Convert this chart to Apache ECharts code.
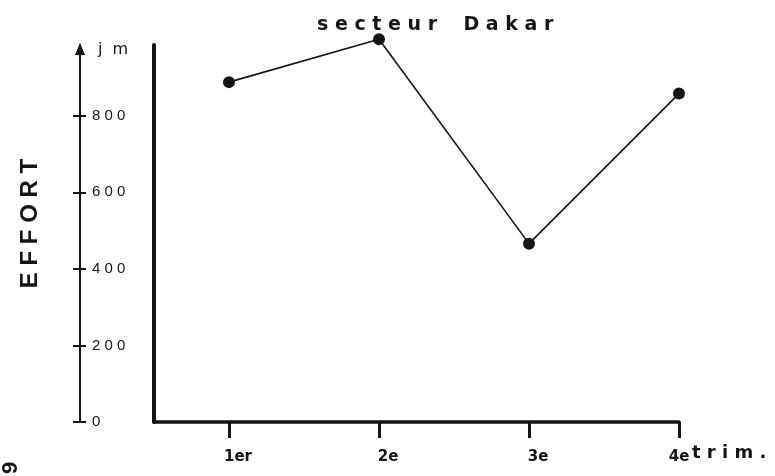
<!DOCTYPE html>
<html>
<head>
<meta charset="utf-8">
<script src="https://cdn.jsdelivr.net/npm/echarts@6/dist/echarts.min.js"></script>
<style>
  html, body { margin: 0; padding: 0; background: #ffffff; }
  #chart { width: 775px; height: 476px; }
</style>
</head>
<body>
<div id="chart"></div>
<script>
// Quarterly fishing effort (man-days), Dakar sector
const chartTitle = 'secteur Dakar';
const quarters = ['1er', '2e', '3e', '4e'];
const effort = [888, 1000, 466, 858];
const yTickValues = [0, 200, 400, 600, 800];
const yUnit = 'jm';
const yName = 'EFFORT';
const xName = 'trim.';
const pageMark = '9';

const INK = '#151515';

// letter-spaced text: spaces between letters, wider gaps between words
function spaced(s, letterGap, wordGap) {
  const lg = letterGap || ' ';
  return s.split(' ').map(w => w.split('').join(lg)).join(wordGap || '    ');
}

const chart = echarts.init(document.getElementById('chart'), null, { renderer: 'canvas' });

const yMin = 0, yMax = 985;
const quarterIdx = quarters.map((q, i) => i);
const lastIdx = quarters.length - 1;

const option = {
  animation: false,
  backgroundColor: '#ffffff',
  title: {
    text: spaced(chartTitle),
    left: 312,
    top: 11,
    textStyle: {
      fontFamily: 'DejaVu Sans',
      fontWeight: 'bold',
      fontSize: 19,
      color: INK
    }
  },
  grid: {
    left: 154,
    right: 96,
    top: 45,
    bottom: 54,
    containLabel: false,
    outerBoundsMode: 'none'
  },
  xAxis: {
    type: 'value',
    min: -0.5,
    max: lastIdx,
    name: spaced(xName),
    nameLocation: 'end',
    nameGap: 13,
    nameMoveOverlap: false,
    nameTextStyle: {
      fontFamily: 'DejaVu Sans',
      fontWeight: 'bold',
      fontSize: 18,
      color: INK,
      align: 'left',
      verticalAlign: 'top',
      padding: [22, 0, 0, 0]
    },
    axisLine: { show: true, onZero: false, lineStyle: { color: INK, width: 3.5 } },
    axisTick: {
      show: true,
      customValues: quarterIdx,
      length: 16,
      lineStyle: { color: INK, width: 3 }
    },
    axisLabel: {
      show: true,
      customValues: quarterIdx,
      formatter: v => {
        const i = Math.round(v);
        const name = quarters[i] || '';
        // the last quarter label sits right on its tick, next to the axis name
        return i === lastIdx ? '{last|' + name + '}' : '{q|' + name + '}';
      },
      align: 'center',
      margin: 28,
      rich: {
        q: {
          fontFamily: 'DejaVu Sans',
          fontWeight: 'bold',
          fontSize: 15,
          color: INK,
          padding: [0, 0, 0, 18]
        },
        last: {
          fontFamily: 'DejaVu Sans',
          fontWeight: 'bold',
          fontSize: 15,
          color: INK
        }
      }
    },
    splitLine: { show: false }
  },
  yAxis: [
    {
      // frame axis of the plot area
      type: 'value',
      min: yMin,
      max: yMax,
      position: 'left',
      axisLine: { show: true, onZero: false, lineStyle: { color: INK, width: 4 } },
      axisTick: { show: false },
      axisLabel: { show: false },
      splitLine: { show: false }
    },
    {
      // detached scale with arrow and labels on its right
      type: 'value',
      min: yMin,
      max: yMax,
      position: 'left',
      offset: 74,
      name: spaced(yUnit, '  '),
      nameLocation: 'end',
      nameGap: -5,
      nameMoveOverlap: false,
      nameTextStyle: {
        fontFamily: 'DejaVu Sans',
        fontSize: 16,
        color: INK,
        align: 'left',
        verticalAlign: 'middle',
        padding: [0, 0, 0, 18]
      },
      axisLine: {
        show: true,
        onZero: false,
        symbol: ['none', 'triangle'],
        symbolSize: [10, 12],
        symbolOffset: [0, -4],
        lineStyle: { color: INK, width: 2 }
      },
      axisTick: {
        show: true,
        inside: true,
        customValues: yTickValues,
        length: 6,
        lineStyle: { color: INK, width: 2 }
      },
      axisLabel: {
        show: true,
        inside: true,
        customValues: yTickValues,
        margin: 12,
        padding: [0, 0, 6, 0],
        formatter: v => spaced(String(v)),
        fontFamily: 'Liberation Sans',
        fontSize: 15,
        color: INK
      },
      splitLine: { show: false }
    },
    {
      // outer half of the scale ticks, plus the axis title
      type: 'value',
      min: yMin,
      max: yMax,
      position: 'left',
      offset: 74,
      name: spaced(yName),
      nameLocation: 'middle',
      nameGap: 38,
      nameRotate: 90,
      nameMoveOverlap: false,
      nameTextStyle: {
        fontFamily: 'Liberation Sans',
        fontWeight: 'bold',
        fontSize: 24,
        color: INK,
        padding: [0, 0, 0, 20]
      },
      axisLine: { show: false, onZero: false },
      axisTick: {
        show: true,
        inside: false,
        customValues: yTickValues,
        length: 7,
        lineStyle: { color: INK, width: 2 }
      },
      axisLabel: { show: false },
      splitLine: { show: false }
    }
  ],
  graphic: [
    {
      type: 'text',
      x: 11,
      y: 468,
      rotation: Math.PI / 2,
      style: {
        text: pageMark,
        fontFamily: 'Liberation Sans',
        fontWeight: 'bold',
        fontSize: 22,
        fill: INK,
        align: 'center',
        verticalAlign: 'middle'
      }
    }
  ],
  series: [
    {
      type: 'line',
      data: effort.map((v, i) => [i, v]),
      xAxisIndex: 0,
      yAxisIndex: 0,
      clip: false,
      symbol: 'circle',
      symbolSize: 12,
      showSymbol: true,
      itemStyle: { color: INK },
      lineStyle: { color: INK, width: 1.6 },
      emphasis: { disabled: true }
    }
  ]
};

chart.setOption(option);
</script>
</body>
</html>
